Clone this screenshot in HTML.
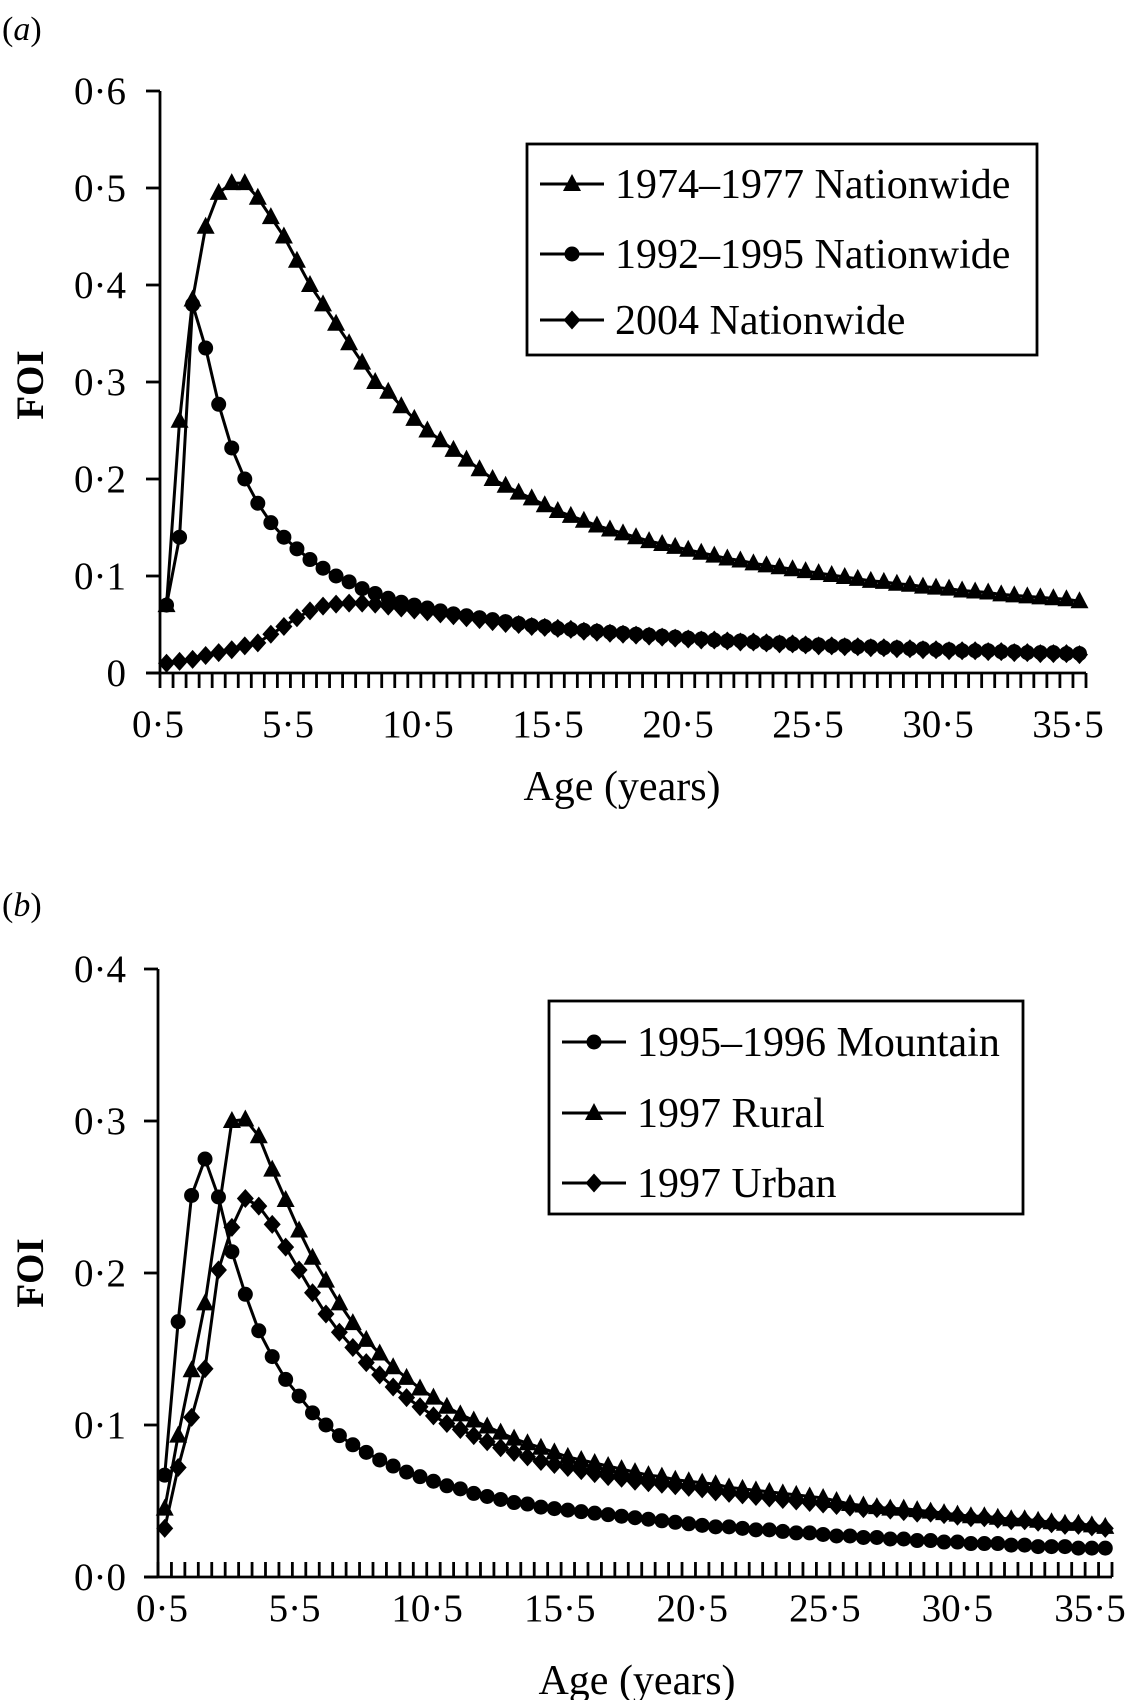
<!DOCTYPE html>
<html><head><meta charset="utf-8"><style>
html,body{margin:0;padding:0;background:#fff}
svg{display:block}
text{font-family:"Liberation Serif",serif;fill:#000}
</style></head><body>
<svg id="chart" width="1128" height="1700" viewBox="0 0 1128 1700" xmlns="http://www.w3.org/2000/svg"></svg>
<script>
const ages = [];
for (let k = 0; k < 71; k++) ages.push(0.5 + k * 0.5);
const xTickLabels = ["0·5","5·5","10·5","15·5","20·5","25·5","30·5","35·5"];
const yTicksA = [0,0.1,0.2,0.3,0.4,0.5,0.6];
const yLabelsA = ["0","0·1","0·2","0·3","0·4","0·5","0·6"];
const yTicksB = [0,0.1,0.2,0.3,0.4];
const yLabelsB = ["0·0","0·1","0·2","0·3","0·4"];

const s1974 = [0.07,0.26,0.385,0.46,0.495,0.505,0.505,0.49,0.47,0.45,0.425,0.40,0.38,0.36,0.34,0.32,0.30,0.29,0.275,0.262,0.25,0.24,0.23,0.22,0.21,0.20,0.193,0.186,0.18,0.173,0.167,0.162,0.157,0.152,0.148,0.144,0.14,0.136,0.133,0.13,0.127,0.124,0.121,0.118,0.116,0.113,0.111,0.109,0.107,0.105,0.103,0.101,0.099,0.097,0.095,0.094,0.092,0.091,0.089,0.088,0.087,0.085,0.084,0.083,0.081,0.08,0.079,0.078,0.077,0.076,0.074];
const s1992 = [0.07,0.14,0.38,0.335,0.277,0.232,0.2,0.175,0.155,0.14,0.128,0.117,0.108,0.1,0.094,0.087,0.082,0.077,0.073,0.07,0.067,0.064,0.061,0.059,0.057,0.055,0.053,0.051,0.049,0.048,0.046,0.045,0.044,0.043,0.042,0.041,0.040,0.039,0.038,0.037,0.036,0.035,0.034,0.033,0.033,0.032,0.031,0.031,0.030,0.029,0.029,0.028,0.028,0.027,0.027,0.026,0.026,0.025,0.025,0.024,0.024,0.023,0.023,0.023,0.022,0.022,0.021,0.021,0.021,0.020,0.020];
const s2004 = [0.01,0.012,0.014,0.018,0.021,0.024,0.028,0.031,0.04,0.048,0.057,0.064,0.069,0.071,0.072,0.072,0.071,0.069,0.067,0.065,0.063,0.061,0.059,0.057,0.055,0.053,0.051,0.050,0.048,0.047,0.046,0.045,0.043,0.042,0.041,0.040,0.039,0.038,0.037,0.036,0.035,0.034,0.034,0.033,0.032,0.032,0.031,0.030,0.030,0.029,0.028,0.028,0.027,0.027,0.026,0.026,0.025,0.025,0.024,0.024,0.023,0.023,0.023,0.022,0.022,0.021,0.021,0.020,0.020,0.020,0.019];

const sMountain = [0.067,0.168,0.251,0.275,0.25,0.214,0.186,0.162,0.145,0.13,0.119,0.108,0.1,0.093,0.087,0.082,0.077,0.073,0.069,0.066,0.063,0.06,0.058,0.055,0.053,0.051,0.049,0.048,0.046,0.045,0.044,0.043,0.042,0.041,0.040,0.039,0.038,0.037,0.036,0.035,0.034,0.033,0.033,0.032,0.031,0.031,0.030,0.029,0.029,0.028,0.027,0.027,0.026,0.026,0.025,0.025,0.024,0.024,0.023,0.023,0.022,0.022,0.022,0.021,0.021,0.020,0.020,0.020,0.019,0.019,0.019];
const sRural = [0.045,0.093,0.136,0.18,null,0.3,0.301,0.29,0.268,0.248,0.228,0.21,0.195,0.18,0.167,0.156,0.147,0.138,0.131,0.124,0.118,0.112,0.107,0.103,0.099,0.095,0.091,0.088,0.085,0.082,0.079,0.077,0.075,0.073,0.071,0.069,0.067,0.066,0.064,0.063,0.062,0.061,0.059,0.058,0.057,0.056,0.055,0.054,0.053,0.052,0.050,0.048,0.047,0.046,0.045,0.045,0.044,0.043,0.042,0.041,0.040,0.040,0.039,0.038,0.038,0.037,0.036,0.035,0.035,0.034,0.033];
const sUrban = [0.032,0.072,0.105,0.137,0.202,0.23,0.249,0.244,0.232,0.217,0.202,0.187,0.173,0.161,0.151,0.141,0.133,0.125,0.118,0.112,0.106,0.101,0.097,0.093,0.089,0.085,0.082,0.079,0.076,0.074,0.072,0.070,0.068,0.066,0.065,0.063,0.062,0.061,0.060,0.059,0.058,0.056,0.055,0.054,0.053,0.052,0.051,0.050,0.049,0.048,0.047,0.046,0.045,0.045,0.044,0.043,0.042,0.042,0.041,0.040,0.039,0.039,0.038,0.037,0.037,0.036,0.035,0.034,0.034,0.033,0.032];

const NS = "http://www.w3.org/2000/svg";
const svg = document.getElementById("chart");
function el(tag, attrs, parent) {
  const e = document.createElementNS(NS, tag);
  for (const k in attrs) e.setAttribute(k, attrs[k]);
  (parent || svg).appendChild(e);
  return e;
}
function marker(g, type, x, y) {
  let m;
  if (type === "tri") m = el("polygon", {points: `${x},${y-10} ${x+9},${y+7} ${x-9},${y+7}`, fill:"#000"}, g);
  else if (type === "dot") m = el("circle", {cx:x, cy:y, r:7.5, fill:"#000"}, g);
  else m = el("polygon", {points: `${x},${y-9.5} ${x+8.5},${y} ${x},${y+9.5} ${x-8.5},${y}`, fill:"#000"}, g);
  return m;
}

function panel(cfg) {
  const g = el("g", {});
  
  
  const x0 = cfg.left, x1 = cfg.right, n = ages.length;
  const cw = (x1 - x0) / n;
  const xs = i => x0 + cw * (i + 0.5);
  const ys = v => cfg.y0 - (v / 0.1) * cfg.unit;
  const pl = el("text", {x:2, y:cfg.letterY, "font-size":34}, g);
  pl.innerHTML = '(<tspan font-style="italic">' + cfg.letter + '</tspan>)';
  
  
  const ya = el("line", {x1:x0, y1:ys(cfg.yTicks[cfg.yTicks.length-1]), x2:x0, y2:cfg.y0, stroke:"#000", "stroke-width":2.8}, g);
  
  
  const xa = el("line", {x1:x0-14, y1:cfg.y0, x2:x1, y2:cfg.y0, stroke:"#000", "stroke-width":2.8}, g);
  
  
  for (let i = 0; i <= n; i++) {
    const tx = x0 + cw * i;
    const t = el("line", {x1:tx, y1:cfg.y0, x2:tx, y2:cfg.y0 + cfg.tickDir * 15, stroke:"#000", "stroke-width":2.8}, g);
    
    
  }
  cfg.yTicks.forEach((v, i) => {
    const y = ys(v);
    const t = el("line", {x1:x0-14, y1:y, x2:x0, y2:y, stroke:"#000", "stroke-width":2.8}, g);
    
    
    const lb = el("text", {x:126, y:y+13, "font-size":39, "text-anchor":"end"}, g);
    lb.textContent = cfg.yLabels[i];
    
    
  });
  xTickLabels.forEach((s, i) => {
    const lx = cfg.lab0 + (cfg.lab1 - cfg.lab0) * i / (xTickLabels.length - 1);
    const lb = el("text", {x:lx, y:cfg.labY, "font-size":39, "text-anchor":"middle"}, g);
    lb.textContent = s;
    
    
  });
  const xt = el("text", {x:cfg.titleX, y:cfg.titleY, "font-size":42, "text-anchor":"middle"}, g);
  xt.textContent = "Age (years)";
  
  
  const yt = el("text", {x:0, y:0, "font-size":39, "font-weight":"bold", "text-anchor":"middle", transform:`translate(43,${cfg.foiY}) rotate(-90)`}, g);
  yt.textContent = "FOI";
  
  
  cfg.series.forEach(s => {
    const sg = el("g", {}, g);
    
    
    const pts = [];
    s.data.forEach((v, i) => { if (v !== null) pts.push(xs(i) + "," + ys(v)); });
    const pl2 = el("polyline", {points:pts.join(" "), fill:"none", stroke:"#000", "stroke-width":3}, sg);
    
    
    s.data.forEach((v, i) => {
      if (v === null) return;
      const m = marker(sg, s.mk, xs(i), ys(v));
      
      
    });
  });
  const L = cfg.legend;
  const lg = el("g", {}, g);
  
  
  el("rect", {x:L.x, y:L.y, width:L.w, height:L.h, fill:"#fff", stroke:"#000", "stroke-width":2.8}, lg);
  cfg.series.forEach((s, i) => {
    const ey = L.rows[i];
    const eg = el("g", {}, lg);
    
    
    el("line", {x1:L.x+13, y1:ey, x2:L.x+77, y2:ey, stroke:"#000", "stroke-width":3}, eg);
    marker(eg, s.mk, L.x+45, ey);
    const t = el("text", {x:L.x+88, y:ey+14, "font-size":42}, eg);
    t.textContent = s.label;
  });
}

panel({name:"panel-a", letter:"a", letterY:40, left:160, right:1086, y0:673, unit:97,
  yTicks:yTicksA, yLabels:yLabelsA, tickDir:1, lab0:158, lab1:1068, labY:737,
  titleX:622, titleY:800, foiY:385,
  series:[
    {name:"series-1974-1977", label:"1974–1977 Nationwide", mk:"tri", data:s1974},
    {name:"series-1992-1995", label:"1992–1995 Nationwide", mk:"dot", data:s1992},
    {name:"series-2004", label:"2004 Nationwide", mk:"dia", data:s2004}],
  legend:{x:527, y:144, w:510, h:211, rows:[184,254,320]}
});
panel({name:"panel-b", letter:"b", letterY:916, left:158, right:1112, y0:1577, unit:152,
  yTicks:yTicksB, yLabels:yLabelsB, tickDir:-1, lab0:162, lab1:1090, labY:1621,
  titleX:637, titleY:1694, foiY:1273,
  series:[
    {name:"series-mountain", label:"1995–1996 Mountain", mk:"dot", data:sMountain},
    {name:"series-rural", label:"1997 Rural", mk:"tri", data:sRural},
    {name:"series-urban", label:"1997 Urban", mk:"dia", data:sUrban}],
  legend:{x:549, y:1001, w:474, h:213, rows:[1042,1113,1183]}
});
</script>
</body></html>
